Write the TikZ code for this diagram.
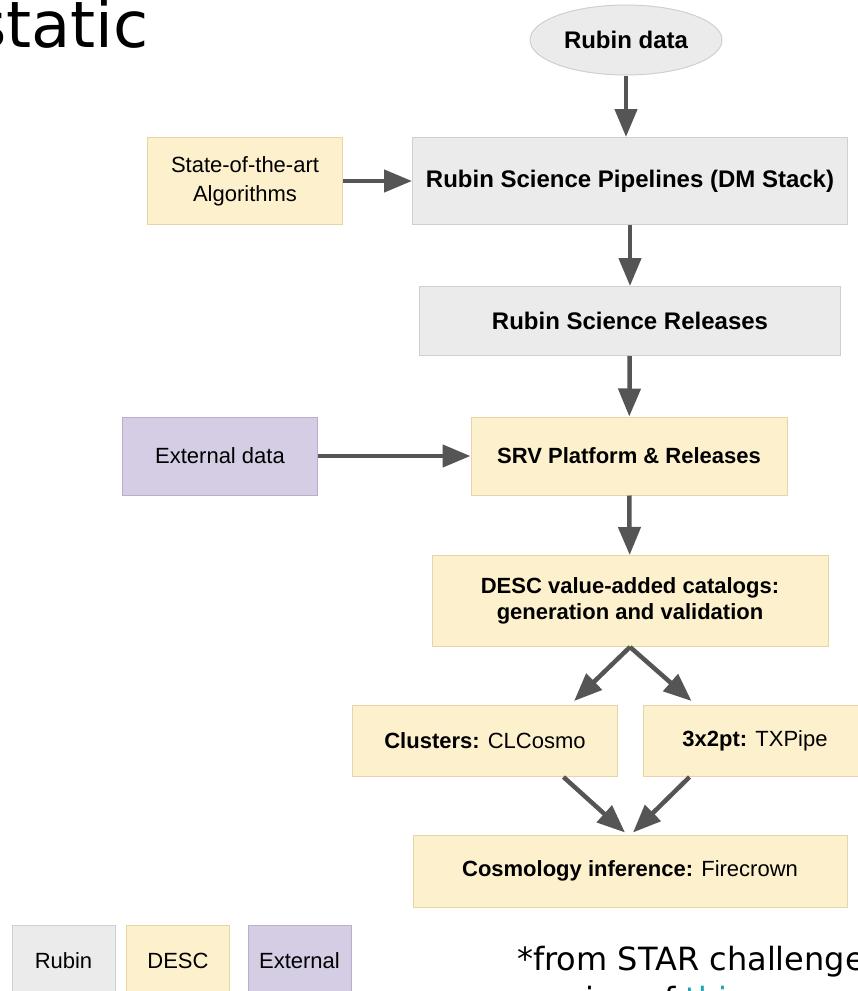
\documentclass[tikz,border=0pt]{standalone}
\usepackage{fontspec}
\setmainfont{Liberation Sans}
\newfontfamily\slidefont{DejaVu Sans}
\usetikzlibrary{arrows.meta, positioning, shapes.geometric, calc}
\definecolor{rubinfill}{HTML}{EBEBEB}
\definecolor{rubinline}{HTML}{CFCFCF}
\definecolor{descfill}{HTML}{FDF0CD}
\definecolor{descline}{HTML}{E6D5A6}
\definecolor{extfill}{HTML}{D5CDE3}
\definecolor{extline}{HTML}{B9AFCD}
\definecolor{arrowgray}{HTML}{555555}
\definecolor{linkteal}{HTML}{1AA3B5}

\begin{document}
\begin{tikzpicture}[
  x=1pt, y=-1pt,
  font=\fontsize{22}{27}\selectfont,
  box/.style={rectangle, line width=1pt, align=center, inner sep=0pt, anchor=center},
  rubin/.style={box, fill=rubinfill, draw=rubinline},
  desc/.style={box, fill=descfill, draw=descline},
  ext/.style={box, fill=extfill, draw=extline},
  big/.style={font=\fontsize{24}{28}\selectfont\bfseries},
  flow/.style={draw=arrowgray, line width=4.5pt, -{Triangle[length=28pt, width=22pt]}},
]
\useasboundingbox (0,0) rectangle (858,991);
\clip (0,0) rectangle (858,991);

% Slide text around the chart
\node[anchor=base west, inner sep=0pt, font=\slidefont\fontsize{64}{70}\selectfont] (title) at (-27,47) {static};
\node[anchor=base west, inner sep=0pt, font=\slidefont\fontsize{32}{38}\selectfont] (note) at (517,970) {*from STAR challenge};
\node[anchor=base west, inner sep=0pt, font=\slidefont\fontsize{32}{38}\selectfont] (note2) at (517,1010) {version of \textcolor{linkteal}{this}};

% Boxes
\node[ellipse, fill=rubinfill, draw=rubinline, line width=1pt, minimum width=192pt, minimum height=70pt, inner sep=0pt, big] (data) at (626,40) {Rubin data};
\node[desc, minimum width=195pt, minimum height=87pt, font=\fontsize{22}{29}\selectfont] (algo) at (245,181) {State-of-the-art\\Algorithms};
\node[rubin, minimum width=435pt, minimum height=87pt, big] (pipe) at (630,181) {Rubin Science Pipelines (DM Stack)};
\node[rubin, minimum width=421pt, minimum height=69pt, big] (rel) at (630,321) {Rubin Science Releases};
\node[ext, minimum width=195pt, minimum height=78pt] (extdata) at (220,456) {External data};
\node[desc, minimum width=316pt, minimum height=78pt, font=\fontsize{22}{27}\selectfont\bfseries] (srv) at (629,456) {SRV Platform \& Releases};
\node[desc, minimum width=396pt, minimum height=91pt, font=\fontsize{22}{26}\selectfont\bfseries] (vac) at (630,601) {DESC value-added catalogs:\\generation and validation};
\node[desc, minimum width=265pt, minimum height=71pt] (clus) at (485,741) {\textbf{Clusters:} CLCosmo};
\node[desc, minimum width=224pt, minimum height=71pt] (tx) at (755,741) {\textbf{3x2pt:} TXPipe};
\node[desc, minimum width=434pt, minimum height=72pt] (cosmo) at (630,871) {\textbf{Cosmology inference:} Firecrown};

% Legend
\foreach \x/\kind/\name in {63.5/rubin/Rubin, 178/desc/DESC, 299.5/ext/External}{
  \node[\kind, minimum width=103pt, minimum height=72pt] (key-\name) at (\x,961) {\name};
}

% Arrows
\draw[flow] (data.south) -- (data.south |- pipe.north);
\draw[flow] (algo) -- (pipe);
\draw[flow] (pipe) -- (rel);
\draw[flow] (rel) -- (srv);
\draw[flow] (extdata) -- (srv);
\draw[flow] (srv) -- (vac);
\draw[flow] (vac.south) -- ($(clus.north)!0.67!(clus.north east)+(0,-4)$);
\draw[flow] (vac.south) -- ($(tx.north west)+(49,-4)$);
\draw[flow] ($(clus.south)!0.59!(clus.south east)$) -- ($(cosmo.north)+(-5,-2)$);
\draw[flow] ($(tx.south west)+(47,0)$) -- ($(cosmo.north)+(3,-2)$);
\end{tikzpicture}
\end{document}
